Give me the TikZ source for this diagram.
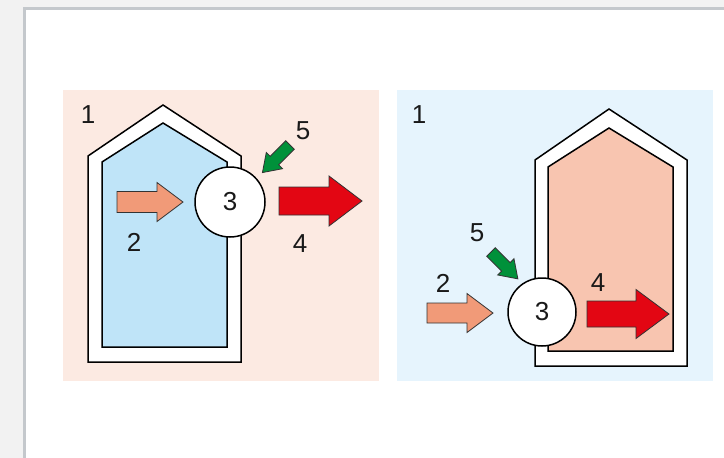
\documentclass[tikz,border=0pt]{standalone}
\usepackage{fontspec}
\setmainfont{Liberation Sans}
\usepackage{tikz}

\definecolor{framegray}{RGB}{196,200,204}
\definecolor{pagegray}{RGB}{242,242,242}
\definecolor{panelpink}{RGB}{252,234,226}
\definecolor{panelblue}{RGB}{230,244,253}
\definecolor{roomblue}{RGB}{191,228,248}
\definecolor{roomsalmon}{RGB}{248,197,176}
\definecolor{heatin}{RGB}{241,154,120}
\definecolor{heatout}{RGB}{227,6,19}
\definecolor{drive}{RGB}{0,145,58}

\tikzset{
  house/.style={draw=black, line width=1.5pt, line join=miter},
  pump/.style={circle, draw=black, line width=1.5pt, fill=white, minimum size=70pt, inner sep=0pt},
  num/.style={inner sep=0pt, font=\fontsize{26}{30}\selectfont, text=black!90},
  flow/.style={draw=black!80, line width=0.8pt, line join=miter}
}

% block arrow: x, y (tail), angle, length, body, head, head length, colour
\newcommand{\flowarrow}[8]{%
  \draw[flow, fill=#8, shift={(#1,#2)}, rotate=#3]
    (0,-#5/2) -- (#4-#7,-#5/2) -- (#4-#7,-#6/2) -- (#4,0)
    -- (#4-#7,#6/2) -- (#4-#7,#5/2) -- (0,#5/2) -- cycle;}

\begin{document}
\begin{tikzpicture}[x=1pt,y=-1pt]
\useasboundingbox (0,0) rectangle (724,458);
\fill[pagegray] (0,0) rectangle (724,458);
\draw[line width=3pt, draw=framegray, fill=white] (24.5,8.5) rectangle (740,475);

% heating
\fill[panelpink] (63,90) rectangle (379,381);
\draw[house, fill=white] (88,362) -- (88,156) -- (163,105) -- (241,156) -- (241,362) -- cycle;
\draw[house, fill=roomblue] (102,347) -- (102,162) -- (163,123) -- (227,162) -- (227,347) -- cycle;
\flowarrow{117}{202}{0}{66}{21}{39}{26}{heatin}
\flowarrow{279}{201}{0}{83}{28}{50}{33}{heatout}
\flowarrow{290}{145}{225}{39}{12}{23}{17}{drive}
\node[pump, num] (p1) at (230,202) {3};
\node[num] (a1) at (88,115) {1};
\node[num] (a2) at (134,242) {2};
\node[num] (a4) at (300,244) {4};
\node[num] (a5) at (303,131) {5};

% cooling
\fill[panelblue] (397,90) rectangle (713,381);
\draw[house, fill=white] (535,366) -- (535,160) -- (609,109) -- (687,160) -- (687,366) -- cycle;
\draw[house, fill=roomsalmon] (548,351) -- (548,167) -- (609,128) -- (673,167) -- (673,351) -- cycle;
\flowarrow{427}{313}{0}{66}{20}{39}{26}{heatin}
\flowarrow{587}{314}{0}{82}{26}{49}{33}{heatout}
\flowarrow{491}{252}{-45}{38}{12}{23}{17}{drive}
\node[pump, num, minimum size=68pt] (p2) at (542,312) {3};
\node[num] (b1) at (419,115) {1};
\node[num] (b2) at (443,283) {2};
\node[num] (b4) at (598,283) {4};
\node[num] (b5) at (477,233) {5};
\end{tikzpicture}
\end{document}
